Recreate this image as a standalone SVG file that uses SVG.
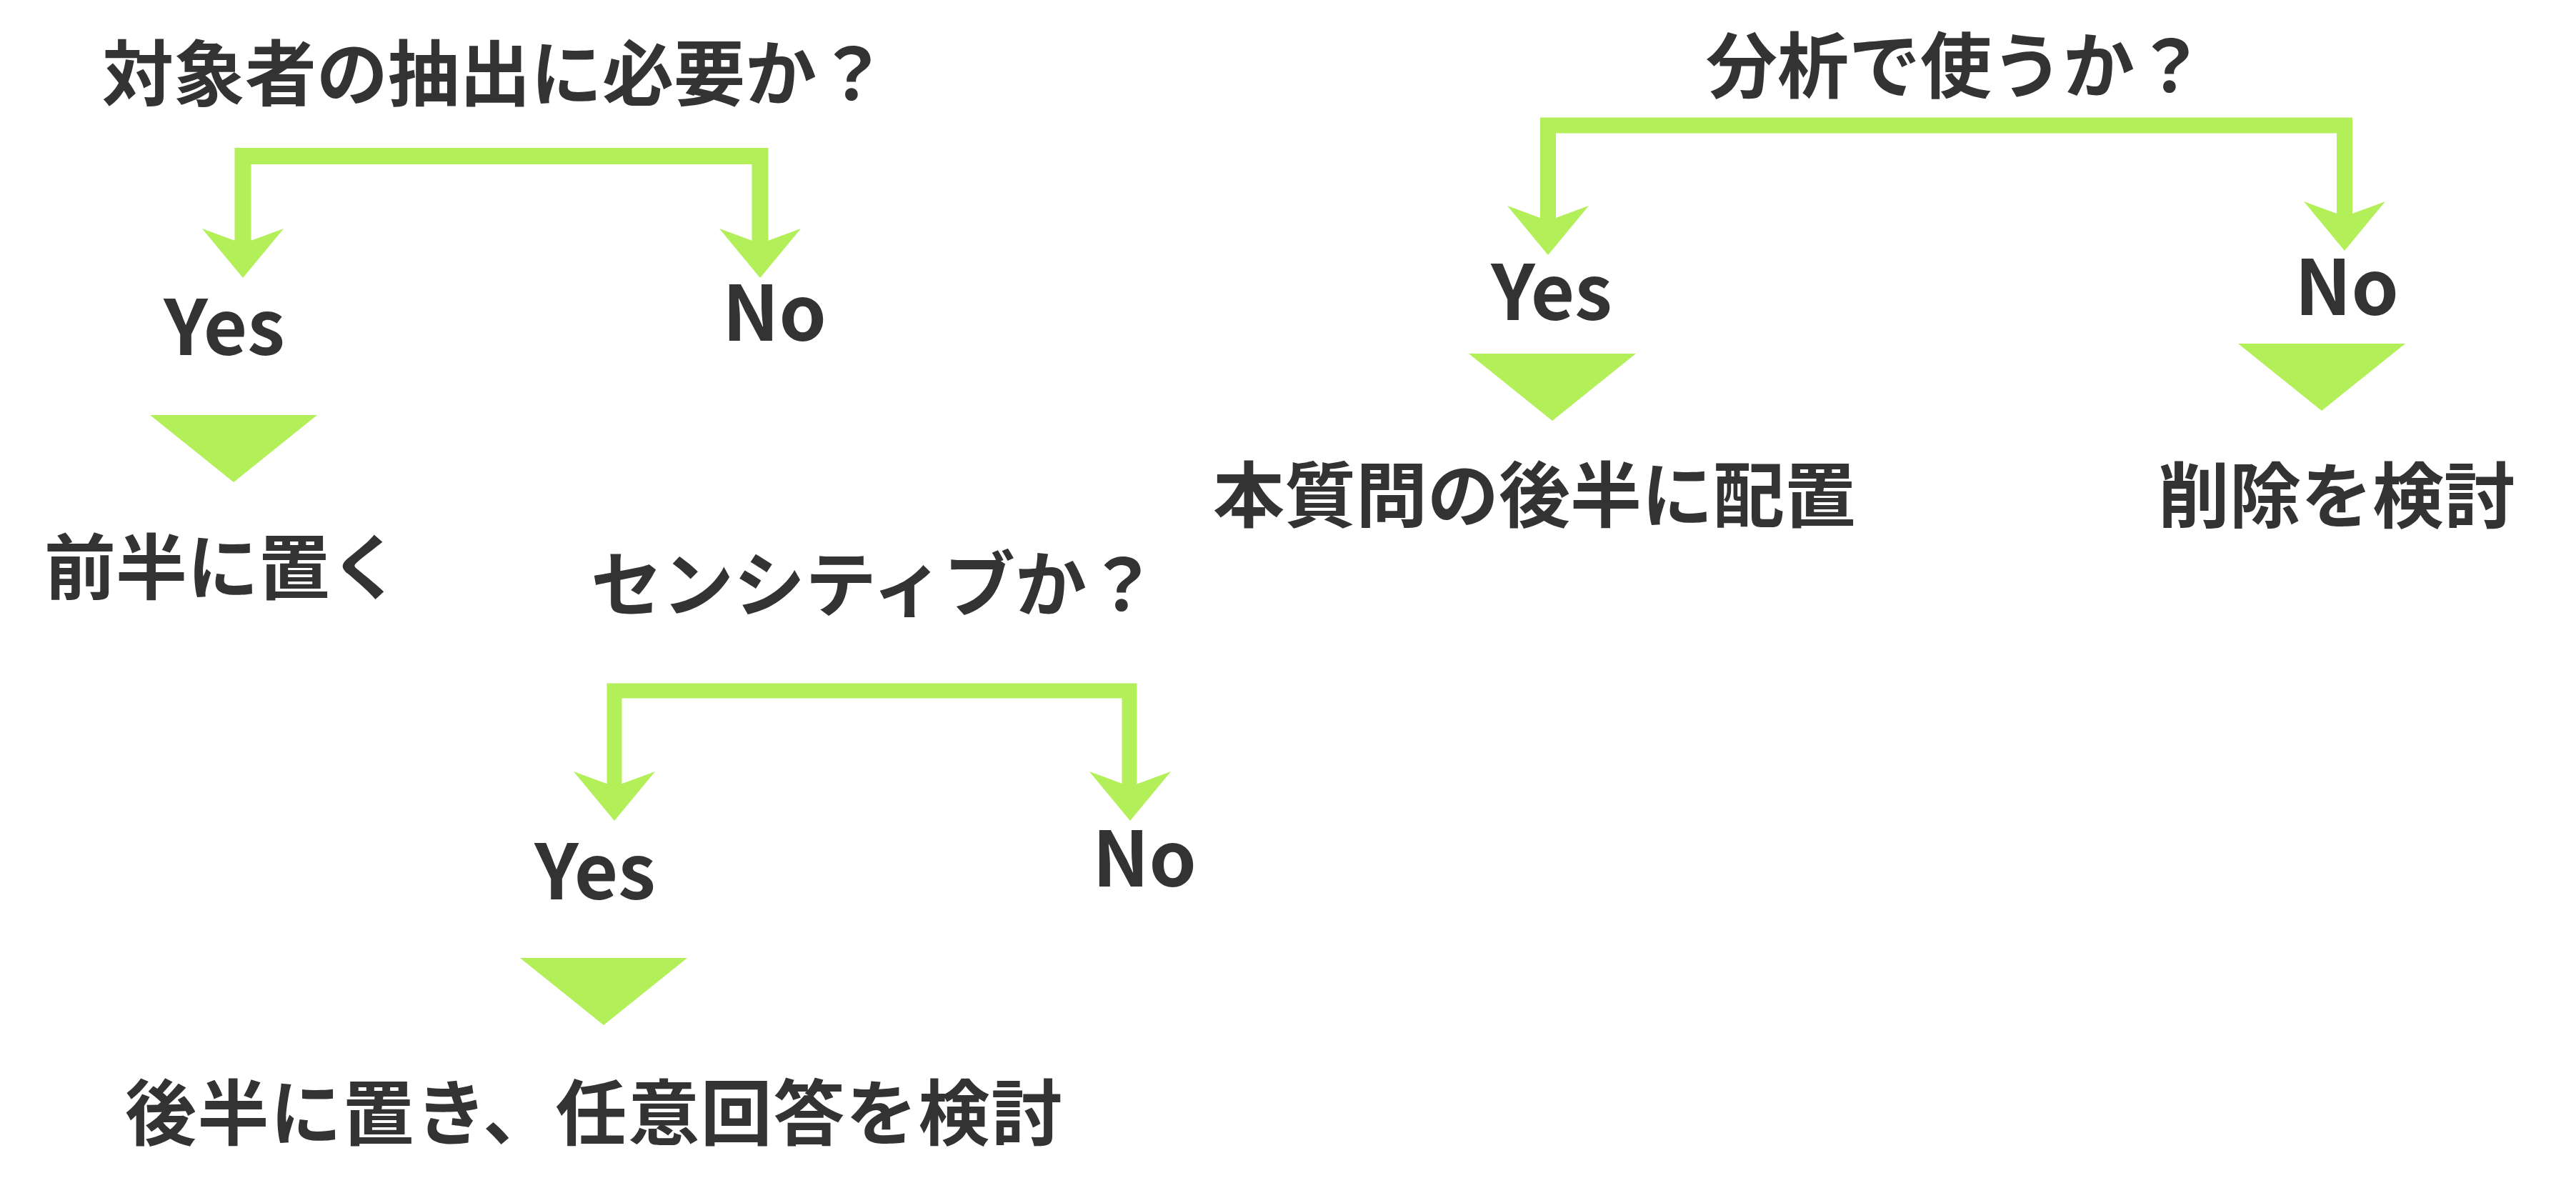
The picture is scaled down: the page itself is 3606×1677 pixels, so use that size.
<svg xmlns="http://www.w3.org/2000/svg" width="3606" height="1677" viewBox="0 0 3606 1677">
<style>
.t{font-family:"Noto Sans CJK JP","Noto Sans",sans-serif;font-weight:700;fill:#333333;font-size:100px}
.yn{font-family:"Noto Sans CJK JP","Noto Sans",sans-serif;font-weight:700;fill:#333333;font-size:106px;text-anchor:middle}
.ln{fill:none;stroke:#b3ef59;stroke-linejoin:miter;stroke-linecap:butt}
.g{fill:#b3ef59}
</style>
<defs>
<path id="ah" d="M-57,-69 L0,0 L57,-69 L0,-48 Z"/>
<path id="tri" d="M-117,0 L117,0 L0,94 Z"/>
</defs>
<rect width="3606" height="1677" fill="#ffffff"/>
<g id="connectors">
<path class="ln" stroke-width="23" d="M340,350 V218.5 H1064 V350"/>
<path class="ln" stroke-width="22" d="M2167,320 V175.5 H3282 V315"/>
<path class="ln" stroke-width="21" d="M860,1110 V967 H1581 V1110"/>
<use href="#ah" class="g" x="340" y="389"/>
<use href="#ah" class="g" x="1064" y="389"/>
<use href="#ah" class="g" x="2167" y="357"/>
<use href="#ah" class="g" x="3282" y="351"/>
<use href="#ah" class="g" x="860" y="1149"/>
<use href="#ah" class="g" x="1582" y="1149"/>
<use href="#tri" class="g" x="327" y="581"/>
<use href="#tri" class="g" x="2173" y="495"/>
<use href="#tri" class="g" x="3250" y="481"/>
<use href="#tri" class="g" x="845" y="1341"/>
</g>
<g id="q1"><text class="t" x="143" y="140">対象者の抽出に必要か？</text></g>
<g id="q1-yes"><text class="yn" x="314" y="497">Yes</text></g>
<g id="q1-no"><text class="yn" x="1084" y="477">No</text></g>
<g id="r1"><text class="t" x="62" y="831">前半に置く</text></g>
<g id="q2"><text class="t" x="2388" y="129">分析で使うか？</text></g>
<g id="q2-yes"><text class="yn" x="2172" y="448">Yes</text></g>
<g id="q2-no"><text class="yn" x="3285" y="441">No</text></g>
<g id="r2"><text class="t" x="1698" y="730">本質問の後半に配置</text></g>
<g id="r3"><text class="t" x="3021" y="731">削除を検討</text></g>
<g id="q3"><text class="t" x="827" y="855">センシティブか？</text></g>
<g id="q3-yes"><text class="yn" x="833" y="1259">Yes</text></g>
<g id="q3-no"><text class="yn" x="1602" y="1241">No</text></g>
<g id="r4"><text class="t" x="175" y="1595" letter-spacing="1.6">後半に置き、任意回答を検討</text></g>
</svg>
